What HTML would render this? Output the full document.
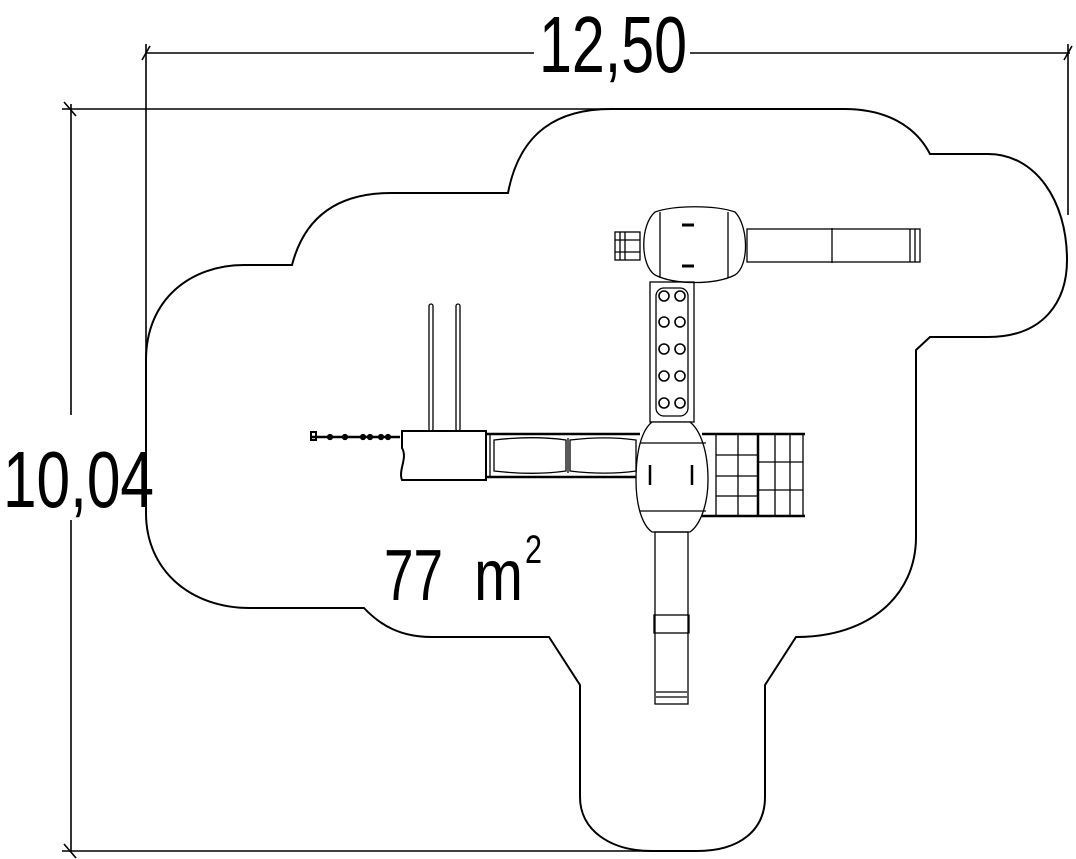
<!DOCTYPE html>
<html><head><meta charset="utf-8"><style>
html,body{margin:0;padding:0;background:#fff;}
svg{display:block;}
text{font-family:"Liberation Sans Narrow","Liberation Sans",sans-serif;fill:#000;}
</style></head><body>
<svg width="1076" height="859" viewBox="0 0 1076 859" xmlns="http://www.w3.org/2000/svg">
<g fill="none" stroke="#000" stroke-width="1.6">
<!-- dimension lines -->
<line x1="146" y1="53" x2="534" y2="53"/>
<line x1="690" y1="53" x2="1070" y2="53"/>
<line x1="146" y1="44" x2="146" y2="365"/>
<line x1="1068" y1="44" x2="1068" y2="215"/>
<line x1="142" y1="60" x2="150" y2="46"/>
<line x1="1064" y1="60" x2="1072" y2="46"/>
<line x1="62" y1="109" x2="612" y2="109"/>
<line x1="71" y1="104" x2="71" y2="415"/>
<line x1="71" y1="520" x2="71" y2="851"/>
<line x1="62" y1="851" x2="652" y2="851"/>
<line x1="64" y1="102" x2="76" y2="116"/>
<line x1="64" y1="844" x2="76" y2="858"/>
<!-- outline -->
<path stroke-width="2" d="M508,193 C520,130 560,109 611,109 L844,109 C885,109 915,125 930,154 L988,154 C1035,154 1067,200 1067,260 C1067,300 1045,337 988,337 L930,337 L916,350 L916,537 C916,595 870,637 796,637 L765,685 L765,797 C765,830 740,851 697,851 L652,851 C610,851 580,830 580,797 L580,685 L549,637 L432,637 C400,637 380,625 364,608 L250,608 C190,608 146,570 146,513 L146,360 C146,300 190,265 244,265 L292,265 C305,215 340,193 391,193 Z"/>
</g>
<!-- equipment -->
<g fill="none" stroke="#000" stroke-width="1.3">
<!-- top deck -->
<path d="M655,212 C675,205 715,205 735,212 C748,225 750,265 735,275 C715,285 675,285 655,275 C640,265 640,225 655,212 Z" fill="#fff"/>
<line x1="660" y1="212" x2="660" y2="278"/><line x1="728" y1="212" x2="728" y2="278"/>
<line x1="682" y1="225" x2="694" y2="225" stroke-width="3"/><line x1="682" y1="266" x2="694" y2="266" stroke-width="3"/>
<!-- ladder -->
<rect x="615" y="232" width="25" height="28"/>
<line x1="620" y1="232" x2="620" y2="260"/><line x1="625" y1="232" x2="625" y2="260"/>
<line x1="615" y1="240" x2="640" y2="240"/><line x1="615" y1="252" x2="640" y2="252"/>
<!-- top slide -->
<rect x="747" y="229" width="173" height="33"/>
<line x1="832" y1="228" x2="832" y2="263"/><line x1="910" y1="229" x2="910" y2="262"/><line x1="915" y1="229" x2="915" y2="262"/>
<!-- tube -->
<rect x="650" y="282" width="44" height="140"/>
<rect x="656" y="288" width="32" height="128" rx="8"/>
<g stroke-width="1.6">
<circle cx="664" cy="296" r="5"/><circle cx="680" cy="296" r="5"/>
<circle cx="664" cy="322" r="5"/><circle cx="680" cy="322" r="5"/>
<circle cx="664" cy="349" r="5"/><circle cx="680" cy="349" r="5"/>
<circle cx="664" cy="376" r="5"/><circle cx="680" cy="376" r="5"/>
<circle cx="664" cy="403" r="5"/><circle cx="680" cy="403" r="5"/>
</g>
<!-- central deck -->
<path d="M652,422 L690,422 C700,430 708,450 708,480 C708,505 700,525 690,532 L652,532 C642,525 636,505 636,480 C636,450 642,430 652,422 Z" fill="#fff"/>
<line x1="640" y1="443" x2="706" y2="443"/><line x1="640" y1="511" x2="706" y2="511"/>
<line x1="650" y1="465" x2="650" y2="485" stroke-width="2.5"/><line x1="692" y1="465" x2="692" y2="485" stroke-width="2.5"/>
<!-- net -->
<line x1="702" y1="434" x2="805" y2="434" stroke-width="2.5"/><line x1="702" y1="516" x2="805" y2="516" stroke-width="2.5"/>
<line x1="716" y1="434" x2="716" y2="516"/><line x1="738" y1="434" x2="738" y2="516"/><line x1="758" y1="434" x2="758" y2="516" stroke-width="2.5"/>
<line x1="775" y1="434" x2="775" y2="516"/><line x1="790" y1="434" x2="790" y2="516"/><line x1="803" y1="434" x2="803" y2="516"/>
<line x1="716" y1="455" x2="758" y2="455"/><line x1="716" y1="476" x2="758" y2="476"/><line x1="716" y1="496" x2="758" y2="496"/>
<line x1="758" y1="462" x2="803" y2="462"/><line x1="758" y1="490" x2="803" y2="490"/>
<!-- bridge -->
<line x1="486" y1="434" x2="640" y2="434" stroke-width="2.5"/><line x1="486" y1="477" x2="636" y2="477" stroke-width="2.5"/>
<line x1="490" y1="434" x2="490" y2="477"/><line x1="568" y1="438" x2="568" y2="473"/>
<path d="M494,440 C520,437 545,437 566,440 L566,471 C545,474 520,474 494,471 Z"/>
<path d="M570,440 C595,437 615,437 636,440 L636,471 C615,474 595,474 570,471 Z"/>
<!-- left deck -->
<path d="M402,431 L486,431 L486,480 L402,480 C398,470 408,458 402,448 Z" stroke-width="2"/>
<!-- poles -->
<rect x="429" y="304" width="4" height="127" rx="2"/><rect x="456" y="304" width="4" height="127" rx="2"/>
<!-- chain -->
<line x1="312" y1="437" x2="400" y2="437" stroke-width="2.5"/>
<rect x="311" y="432" width="5" height="8" stroke-width="2"/>
<g fill="#000"><circle cx="330" cy="437" r="2.5"/><circle cx="345" cy="437" r="2.5"/><circle cx="363" cy="437" r="2.5"/><circle cx="370" cy="437" r="2.5"/><circle cx="381" cy="437" r="2.5"/><circle cx="388" cy="437" r="2.5"/></g>
<!-- bottom slide -->
<rect x="655" y="532" width="33" height="172"/>
<rect x="654" y="615" width="35" height="18"/>
<line x1="656" y1="692" x2="687" y2="692"/><line x1="656" y1="697" x2="687" y2="697"/>
</g>
<text x="539" y="72" font-size="80" textLength="148" lengthAdjust="spacingAndGlyphs">12,50</text>
<text x="3" y="507" font-size="80" textLength="151" lengthAdjust="spacingAndGlyphs">10,04</text>
<text x="384" y="600" font-size="72" textLength="59" lengthAdjust="spacingAndGlyphs">77</text>
<text x="474" y="600" font-size="72" textLength="49" lengthAdjust="spacingAndGlyphs">m</text>
<text x="525" y="563" font-size="40" textLength="17" lengthAdjust="spacingAndGlyphs">2</text>
</svg>
</body></html>
